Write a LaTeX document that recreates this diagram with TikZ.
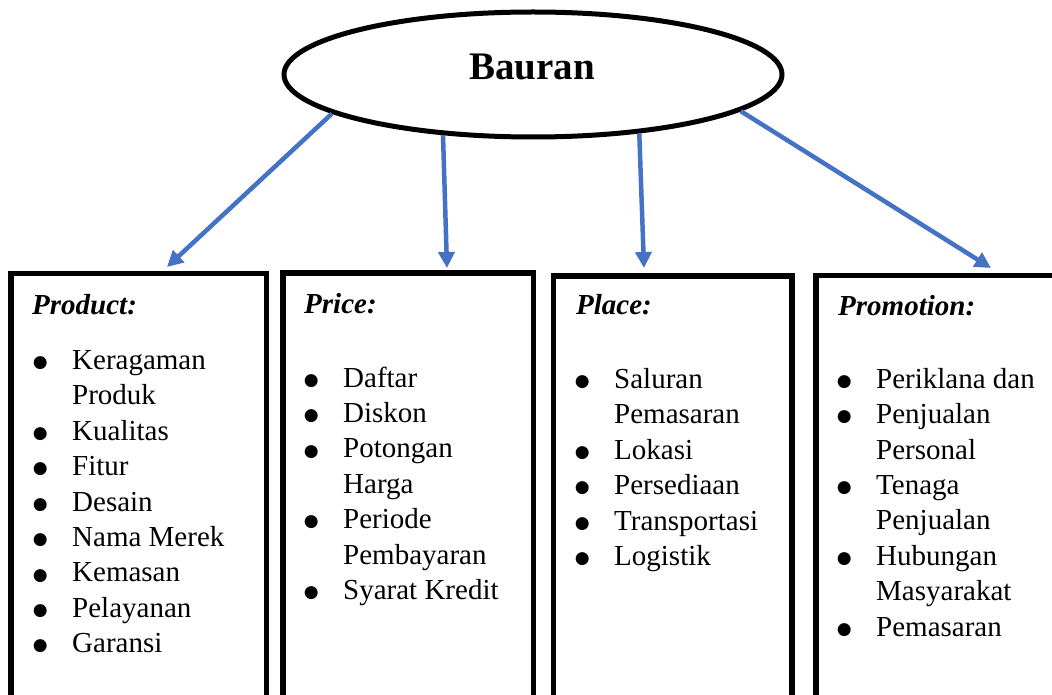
\documentclass[tikz,border=0pt]{standalone}
\usepackage{fontspec}
\setmainfont{Liberation Serif}
\newfontfamily\mixsymfont{DejaVu Sans}
\usetikzlibrary{shapes.geometric,arrows.meta}
\definecolor{arrowblue}{HTML}{4472C4}
\newcommand\mixbul{\makebox[0pt]{\raisebox{1.8pt}{\mixsymfont\fontsize{17}{17}\selectfont ●}}\hspace{32pt}}
\newcommand\mixcont{\hspace{32pt}}
\begin{document}
\begin{tikzpicture}[x=1pt,y=-1pt,
  mixbox/.style={draw, line width=5.5pt, rectangle, inner sep=0pt, outer sep=0pt, anchor=north west, minimum height=450pt},
  head/.style={anchor=base west, inner sep=0pt, font=\fontsize{29}{35.4}\selectfont\bfseries\itshape},
  items/.style={anchor=base west, inner sep=0pt, font=\fontsize{29}{35.4}\selectfont},
  link/.style={draw=arrowblue, line width=4.5pt, -{Triangle[length=16pt,width=16pt]}},
]
\useasboundingbox (0,0) rectangle (1052,695);
\fill[white] (0,0) rectangle (1052,695);

% central ellipse
\node[draw, ellipse, line width=5pt, minimum width=498pt, minimum height=125pt, inner sep=0pt] (bauran) at (533,74.5) {};
\node[anchor=base, inner sep=0pt, font=\fontsize{39}{47}\selectfont\bfseries] (bauranlabel) at (532,80) {Bauran};

% boxes
\node[mixbox, minimum width=255.7pt] (productbox) at (11,273.5) {};
\node[mixbox, minimum width=250.3pt] (pricebox) at (283,273) {};
\node[mixbox, minimum width=238.7pt] (placebox) at (553.3,276) {};
\node[mixbox, minimum width=260pt] (promobox) at (816,275.5) {};

% headings
\node[head] (producthead) at (32,314) {Product:};
\node[head] (pricehead) at (304,313) {Price:};
\node[head] (placehead) at (576,314) {Place:};
\node[head] (promohead) at (838,315) {Promotion:};

% lists
\node[items] (productlist) at (40,369.5) {\begin{tabular}[t]{@{}l@{}}
\mixbul Keragaman\\ \mixcont Produk\\ \mixbul Kualitas\\ \mixbul Fitur\\ \mixbul Desain\\
\mixbul Nama Merek\\ \mixbul Kemasan\\ \mixbul Pelayanan\\ \mixbul Garansi
\end{tabular}};
\node[items] (pricelist) at (311,387) {\begin{tabular}[t]{@{}l@{}}
\mixbul Daftar\\ \mixbul Diskon\\ \mixbul Potongan\\ \mixcont Harga\\ \mixbul Periode\\
\mixcont Pembayaran\\ \mixbul Syarat Kredit
\end{tabular}};
\node[items] (placelist) at (582,388.5) {\begin{tabular}[t]{@{}l@{}}
\mixbul Saluran\\ \mixcont Pemasaran\\ \mixbul Lokasi\\ \mixbul Persediaan\\ \mixbul Transportasi\\
\mixbul Logistik
\end{tabular}};
\node[items] (promolist) at (844,388.3) {\begin{tabular}[t]{@{}l@{}}
\mixbul Periklana dan\\ \mixbul Penjualan\\ \mixcont Personal\\ \mixbul Tenaga\\ \mixcont Penjualan\\
\mixbul Hubungan\\ \mixcont Masyarakat\\ \mixbul Pemasaran
\end{tabular}};

% arrow tips
\coordinate (tip1) at (167,267);
\coordinate (tip2) at (447,268);
\coordinate (tip3) at (644,268);
\coordinate (tip4) at (991,268);

\draw[link] (bauran.191.7) -- (tip1);
\draw[link] (bauran.214) -- (tip2);
\draw[link] (bauran.331.7) -- (tip3);
\draw[link] (bauran.350) -- (tip4);
\end{tikzpicture}
\end{document}
